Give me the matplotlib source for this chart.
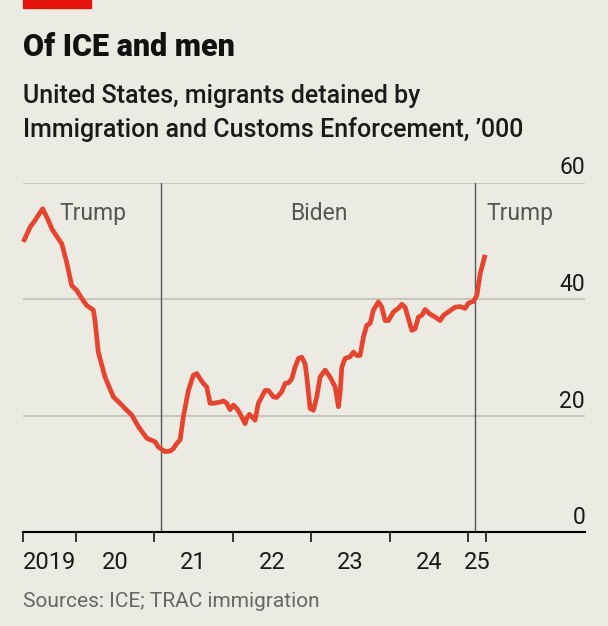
import matplotlib.pyplot as plt
from matplotlib.patches import Rectangle
import matplotlib.transforms as mtransforms

# decimal year vs detained ('000)
year = [2019.328, 2019.413, 2019.477, 2019.575, 2019.647, 2019.690, 2019.732, 2019.818,
        2019.881, 2019.945, 2020.009, 2020.073, 2020.136, 2020.221, 2020.242, 2020.284,
        2020.370, 2020.476, 2020.561, 2020.625, 2020.710, 2020.795, 2020.902, 2021.008,
        2021.050, 2021.135, 2021.199, 2021.241, 2021.284, 2021.327, 2021.369, 2021.433,
        2021.496, 2021.540, 2021.582, 2021.624, 2021.667, 2021.709, 2021.751, 2021.837,
        2021.879, 2021.922, 2021.964, 2022.006, 2022.050, 2022.092, 2022.156, 2022.177,
        2022.211, 2022.241, 2022.283, 2022.325, 2022.369, 2022.411, 2022.453, 2022.517,
        2022.560, 2022.624, 2022.666, 2022.708, 2022.751, 2022.793, 2022.836, 2022.879,
        2022.921, 2022.943, 2022.985, 2023.027, 2023.070, 2023.112, 2023.176, 2023.240,
        2023.304, 2023.346, 2023.367, 2023.389, 2023.431, 2023.495, 2023.537, 2023.580,
        2023.622, 2023.665, 2023.708, 2023.750, 2023.792, 2023.856, 2023.899, 2023.941,
        2023.984, 2024.048, 2024.111, 2024.154, 2024.196, 2024.239, 2024.282, 2024.324,
        2024.366, 2024.409, 2024.452, 2024.515, 2024.579, 2024.643, 2024.685, 2024.749,
        2024.834, 2024.898, 2024.962, 2025.004, 2025.068, 2025.111, 2025.153, 2025.217]
detained = [49.8, 52.3, 53.5, 55.5, 53.5, 52.1, 51.2, 49.5,
            46.3, 42.3, 41.5, 40.1, 38.9, 38.1, 36.3, 30.9,
            26.6, 23.2, 22.1, 21.2, 20.1, 18.1, 16.1, 15.5,
            14.6, 13.8, 13.9, 14.3, 15.2, 15.8, 19.8, 24.3,
            26.9, 27.2, 26.3, 25.5, 24.9, 22.1, 22.1, 22.3,
            22.5, 22.1, 21.0, 21.8, 21.2, 20.3, 18.6, 19.5,
            20.2, 19.8, 19.2, 22.1, 23.2, 24.3, 24.3, 23.2,
            23.1, 24.1, 25.5, 25.6, 26.3, 28.3, 29.8, 30.0,
            28.9, 26.6, 21.2, 20.9, 23.2, 26.6, 27.8, 26.6,
            24.9, 21.5, 23.8, 28.3, 29.8, 30.1, 30.9, 30.3,
            30.3, 33.5, 35.5, 35.8, 38.1, 39.5, 38.6, 36.3,
            36.3, 37.8, 38.4, 39.1, 38.6, 36.6, 34.6, 34.9,
            36.9, 37.2, 38.2, 37.4, 36.9, 36.3, 37.2, 37.8,
            38.6, 38.7, 38.4, 39.3, 39.6, 40.6, 44.3, 47.6]

inaugurations = [2021.08, 2025.09]
presidents = ['Trump', 'Biden', 'Trump']
president_x = [2020.21, 2023.10, 2025.66]

year_ticks = [2019.324, 2020, 2021, 2022, 2023, 2024, 2025, 2025.23]
year_labels = ['2019', '20', '21', '22', '23', '24', '25']
y_ticks = [0, 20, 40, 60]

bg = '#ECEBE3'
red = '#E6442E'

plt.rcParams['font.family'] = ['Roboto', 'DejaVu Sans']

fig = plt.figure(figsize=(6.08, 6.26), dpi=100, facecolor=bg)
ax = fig.add_axes([23/608, 1 - 532/626, 562/608, 349.5/626])
ax.set_facecolor(bg)

ax.plot(year, detained, color=red, lw=3.4, solid_joinstyle='round',
        solid_capstyle='butt', zorder=4, clip_on=False)

for v in y_ticks[1:]:
    ax.axhline(v, color='#BDBCB4', lw=1.1, zorder=1)
for x in inaugurations:
    ax.axvline(x, color='#555555', lw=1.0, zorder=2)

ax.set_xlim(2019.324, 2026.49)
ax.set_ylim(0, 60)

for s in ['top', 'left', 'right']:
    ax.spines[s].set_visible(False)
ax.spines['bottom'].set_color('black')
ax.spines['bottom'].set_linewidth(1.5)
ax.spines['bottom'].set_zorder(5)

ax.set_yticks([])
ax.set_xticks(year_ticks)
ax.set_xticklabels([])
ax.tick_params(axis='x', which='major', length=7.2, width=1.1, color='black')
mids = [(a + b) / 2 for a, b in zip(year_ticks[:-1], year_ticks[1:])]
ax.set_xticks(mids, minor=True)
ax.set_xticklabels(year_labels, minor=True)
ax.tick_params(axis='x', which='minor', length=0, pad=14, labelsize=17,
               labelcolor='#1a1a1a')

# y labels sit above the gridlines on the right
off = mtransforms.offset_copy(
    mtransforms.blended_transform_factory(ax.transAxes, ax.transData),
    fig=fig, x=0, y=8, units='dots')
for v in y_ticks:
    ax.text(1.0, v, str(v), transform=off, ha='right', va='baseline',
            fontsize=16.5, color='#1a1a1a')

for name, x in zip(presidents, president_x):
    ax.text(x, 53.5, name, ha='center', va='baseline', fontsize=16.5,
            color='#555555')

fig.patches.append(Rectangle((23/608, 1 - 8/626), 68/608, 8/626,
                             transform=fig.transFigure, color='#E3120B'))
fig.text(23/608, 1 - 56/626, 'Of ICE and men', fontsize=22, fontweight='heavy',
         color='#111111', ha='left', va='baseline')
fig.text(23/608, 1 - 103/626, 'United States, migrants detained by',
         fontsize=18, fontweight='medium', color='#1a1a1a', ha='left', va='baseline')
fig.text(23/608, 1 - 137/626, 'Immigration and Customs Enforcement, \u2019000',
         fontsize=18, fontweight='medium', color='#1a1a1a', ha='left', va='baseline')
fig.text(23/608, 1 - 607/626, 'Sources: ICE; TRAC immigration',
         fontsize=15, color='#666666', ha='left', va='baseline')

plt.savefig('out.png', dpi=100, facecolor=bg)
